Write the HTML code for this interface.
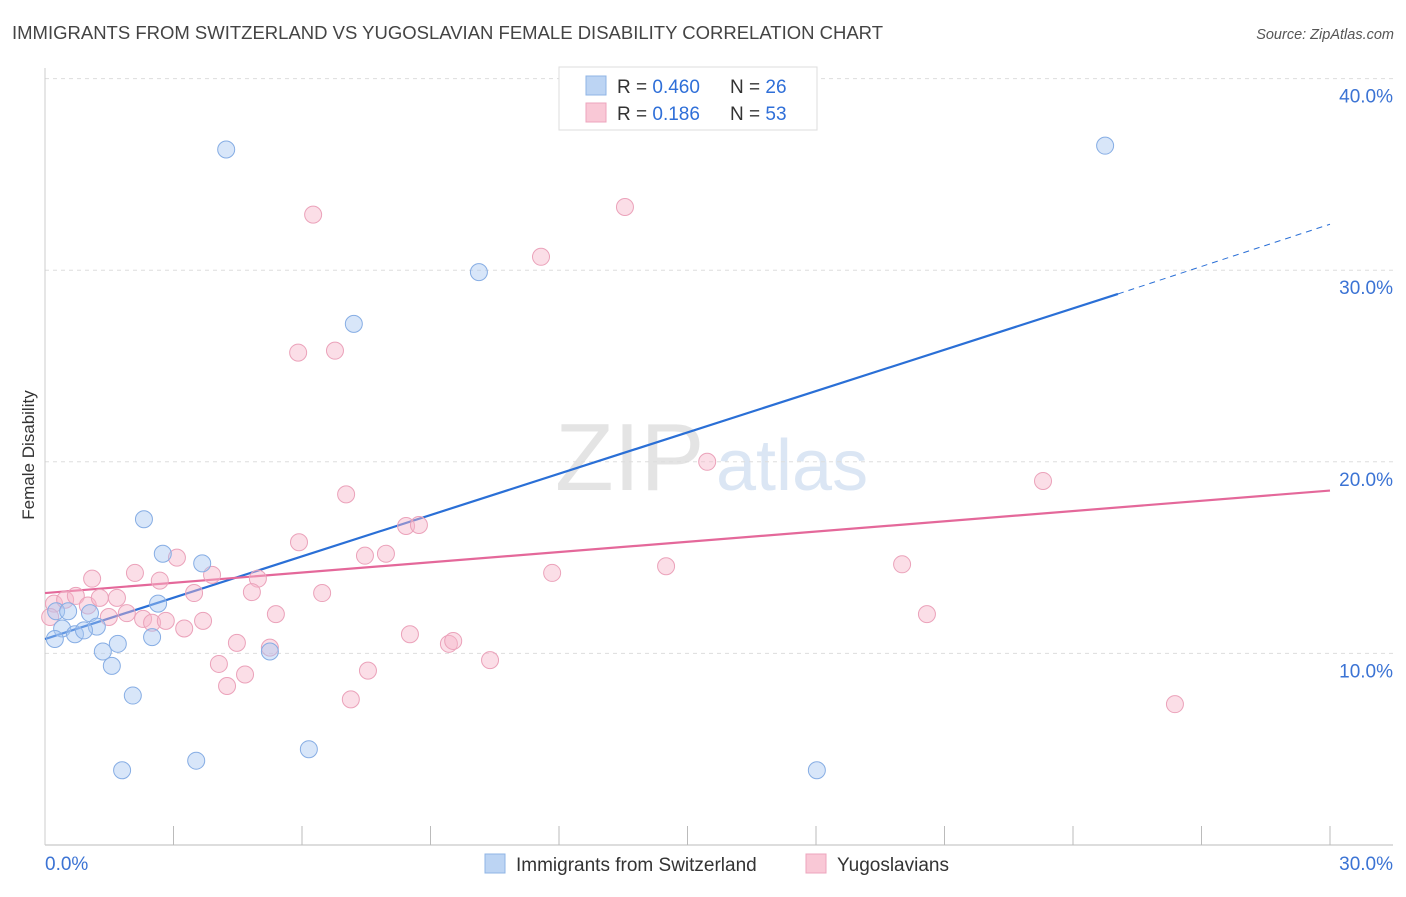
<!DOCTYPE html>
<html><head><meta charset="utf-8">
<style>
body{margin:0;background:#fff;font-family:"Liberation Sans",sans-serif;}
svg text{font-family:"Liberation Sans",sans-serif;}
</style></head>
<body>
<svg id="chart" width="1406" height="892" xmlns="http://www.w3.org/2000/svg">
<text x="12" y="39" font-size="18.5" fill="#444">IMMIGRANTS FROM SWITZERLAND VS YUGOSLAVIAN FEMALE DISABILITY CORRELATION CHART</text>
<text x="1394" y="39" font-size="14.5" fill="#555" font-style="italic" text-anchor="end">Source: ZipAtlas.com</text>
<g>
<text x="555" y="490" font-size="96" fill="#e4e4e4" font-family="Liberation Serif">ZIP</text>
<text x="716" y="490" font-size="72" fill="#dbe6f4">atlas</text>
</g>
<g id="grid"></g>
<g id="axes"></g>
<g id="lines"></g>
<g id="points"></g>
<text transform="translate(34,455) rotate(-90)" font-size="17" fill="#333" text-anchor="middle">Female Disability</text>
<g>
<rect x="559" y="67" width="258" height="63" fill="#fff" stroke="#ddd"/>
<rect x="586" y="76" width="20" height="19" fill="#bcd4f3" stroke="#8fb4e6"/>
<rect x="586" y="103" width="20" height="19" fill="#f9c8d6" stroke="#eda5bd"/>
<text x="617" y="93" font-size="19" fill="#333">R = <tspan fill="#2f6fd8">0.460</tspan></text>
<text x="730" y="93" font-size="19" fill="#333">N = <tspan fill="#2f6fd8">26</tspan></text>
<text x="617" y="120" font-size="19" fill="#333">R =  <tspan fill="#2f6fd8">0.186</tspan></text>
<text x="730" y="120" font-size="19" fill="#333">N = <tspan fill="#2f6fd8">53</tspan></text>
</g>
<g>
<rect x="485" y="854" width="20" height="19" fill="#bcd4f3" stroke="#8fb4e6"/>
<text x="516" y="871" font-size="19" fill="#333">Immigrants from Switzerland</text>
<rect x="806" y="854" width="20" height="19" fill="#f9c8d6" stroke="#eda5bd"/>
<text x="837" y="871" font-size="19" fill="#333">Yugoslavians</text>
</g>
</svg>
<script>
const yTicks=[10,20,30,40];
const yTickLabels=["10.0%","20.0%","30.0%","40.0%"];
const xEndLabels=["0.0%","30.0%"];
const blueX=[4.23,24.75,10.13,7.21,2.31,2.75,3.67,2.64,0.26,0.54,1.05,1.21,0.40,0.70,0.91,0.23,2.50,1.70,1.35,5.25,1.56,2.05,1.80,3.53,6.16,18.02];
const blueY=[36.3,36.5,29.9,27.2,17.0,15.2,14.7,12.6,12.2,12.2,12.1,11.4,11.3,11.0,11.2,10.75,10.85,10.5,10.1,10.1,9.35,7.8,3.9,4.4,5.0,3.9];
const pinkX=[6.26,13.54,11.58,5.91,6.77,7.03,15.46,23.30,8.43,8.73,5.93,3.08,7.47,7.96,11.84,14.50,20.01,1.10,2.10,2.68,3.90,4.97,0.21,0.47,0.72,1.00,1.28,1.68,1.91,1.49,2.29,2.50,2.82,3.48,3.69,3.25,4.83,5.39,6.47,20.59,4.48,5.25,8.52,9.43,9.53,10.39,4.06,4.67,4.25,7.54,7.14,26.38,0.12];
const pinkY=[32.9,33.3,30.7,25.7,25.8,18.3,20.0,19.0,16.65,16.7,15.8,15.0,15.1,15.2,14.2,14.55,14.65,13.9,14.2,13.8,14.1,13.9,12.6,12.8,13.0,12.5,12.9,12.9,12.1,11.9,11.8,11.6,11.7,13.15,11.7,11.3,13.2,12.05,13.15,12.05,10.55,10.3,11.0,10.5,10.65,9.65,9.45,8.9,8.3,9.1,7.6,7.35,11.9];
const blueTrendX=[0,25.05,30];
const blueTrendY=[10.75,28.76,32.4];
const pinkTrendX=[0,30];
const pinkTrendY=[13.15,18.5];

const NS="http://www.w3.org/2000/svg";
const sx=v=>45+v*42.833;
const sy=v=>845-v*19.16;
function mk(tag,attrs,parent){const e=document.createElementNS(NS,tag);for(const k in attrs)e.setAttribute(k,attrs[k]);parent.appendChild(e);return e;}
const grid=document.getElementById('grid'),axes=document.getElementById('axes'),lines=document.getElementById('lines'),pts=document.getElementById('points');
yTicks.forEach((t,i)=>{
 const l=mk('line',{x1:45,x2:1393,y1:sy(t),y2:sy(t),stroke:'#ddd','stroke-dasharray':'4,4'},grid);
 
 
 const tx=mk('text',{x:1393,y:sy(t)+24,'font-size':19,fill:'#3b73d4','text-anchor':'end'},grid);
 tx.textContent=yTickLabels[i];
 
 
});
const xa=mk('line',{x1:45,x2:1393,y1:845,y2:845,stroke:'#bbb'},axes);


const ya=mk('line',{x1:45,x2:45,y1:68,y2:845,stroke:'#ccc'},axes);


for(let i=1;i<=10;i++){
 const t=mk('line',{x1:sx(i*3),x2:sx(i*3),y1:826,y2:845,stroke:'#bbb'},axes);
 
 
}
[[0,'start'],[30,'end']].forEach((p,i)=>{
 const t=mk('text',{x:i?1393:45,y:870,'font-size':19,fill:'#3b73d4','text-anchor':p[1]},axes);
 t.textContent=xEndLabels[i];
 
 
});
function drawPts(X,Y,fill,stroke,name){
 X.forEach((x,i)=>{
  const c=mk('circle',{cx:sx(x),cy:sy(Y[i]),r:8.5,fill:fill,stroke:stroke,'stroke-width':1},pts);
  
  
 });
}
drawPts(pinkX,pinkY,'rgba(246,182,202,0.45)','#eba2ba','point-yugoslavians');
drawPts(blueX,blueY,'rgba(168,200,242,0.45)','#86ade4','point-switzerland');
const b1=mk('line',{x1:sx(blueTrendX[0]),y1:sy(blueTrendY[0]),x2:sx(blueTrendX[1]),y2:sy(blueTrendY[1]),stroke:'#2a6fd6','stroke-width':2.2},lines);


const b2=mk('line',{x1:sx(blueTrendX[1]),y1:sy(blueTrendY[1]),x2:sx(blueTrendX[2]),y2:sy(blueTrendY[2]),stroke:'#2a6fd6','stroke-width':1,'stroke-dasharray':'6,5'},lines);


const p1=mk('line',{x1:sx(pinkTrendX[0]),y1:sy(pinkTrendY[0]),x2:sx(pinkTrendX[1]),y2:sy(pinkTrendY[1]),stroke:'#e4689a','stroke-width':2.2},lines);


</script>
</body></html>
